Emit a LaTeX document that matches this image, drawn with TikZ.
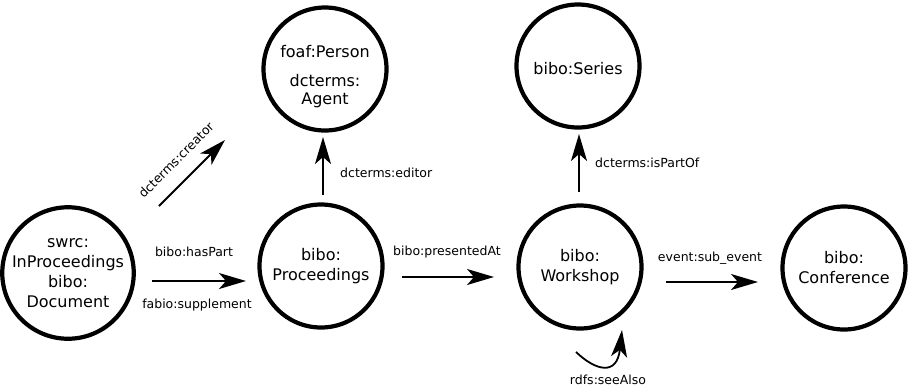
\documentclass[tikz,border=0pt]{standalone}
\usepackage{fontspec}
\setmainfont{DejaVu Sans}
\usetikzlibrary{arrows.meta}
\begin{document}
\begin{tikzpicture}[x=1pt,y=-1pt,
  cls/.style={circle,draw,line width=4.2pt,minimum size=123pt,inner sep=0pt,
    align=center,font=\fontsize{16}{20}\selectfont},
  clstext/.style={align=center,inner sep=0pt,font=\fontsize{16}{20}\selectfont},
  rel/.style={line width=1.8pt,-{Stealth[length=27pt,width=16pt,inset=7pt]}},
  lbl/.style={font=\fontsize{12.5}{15}\selectfont,inner sep=0pt}]
\useasboundingbox (0,0) rectangle (909,389);

% classes
\node[cls] (doc) at (68,273) {swrc:\\InProceedings\\bibo:\\Document};
\node[cls] (proc) at (321,266) {bibo:\\Proceedings};
\node[cls] (agent) at (325,69) {};
\node[clstext] (agenttxt) at ([yshift=-8pt]agent.center) {foaf:Person\\[9pt]dcterms:\\[-2pt]Agent};
\node[cls] (ws) at (580,267) {bibo:\\Workshop};
\node[cls] (series) at (578,66) {};
\node[clstext] (seriestxt) at ([yshift=-3pt]series.center) {bibo:Series};
\node[cls] (conf) at (844,268) {bibo:\\Conference};

% free arrow ends
\coordinate (hpA) at (152,281);   \coordinate (hpB) at (246,281);
\coordinate (crA) at (159,206);   \coordinate (crB) at (225,140);
\coordinate (edA) at (323,195);   \coordinate (edB) at (323,137);
\coordinate (paA) at (402,277);   \coordinate (paB) at (494,277);
\coordinate (ipA) at (579,192);   \coordinate (ipB) at (579,134);
\coordinate (seA) at (666,282);   \coordinate (seB) at (758,282);
\coordinate (saA) at (576,352);   \coordinate (saB) at (622,330);

% relations
\draw[rel] (hpA) -- (hpB);
\draw[rel] (crA) -- (crB);
\draw[rel] (edA) -- (edB);
\draw[rel] (paA) -- (paB);
\draw[rel] (ipA) -- (ipB);
\draw[rel] (seA) -- (seB);
\draw[rel] (saA) .. controls (596,371) and (617,376) .. (saB);

% relation labels
\node[lbl] (lhp) at (194,252) {bibo:hasPart};
\node[lbl] (lsup) at (197,305) {fabio:supplement};
\node[lbl,rotate=45] (lcr) at (176,160) {dcterms:creator};
\node[lbl,anchor=west] (led) at (340,173) {dcterms:editor};
\node[lbl] (lpa) at (447,252) {bibo:presentedAt};
\node[lbl,anchor=west] (lip) at (595,163) {dcterms:isPartOf};
\node[lbl] (lse) at (710,258) {event:sub\_event};
\node[lbl] (lsa) at (608,380) {rdfs:seeAlso};
\end{tikzpicture}
\end{document}
